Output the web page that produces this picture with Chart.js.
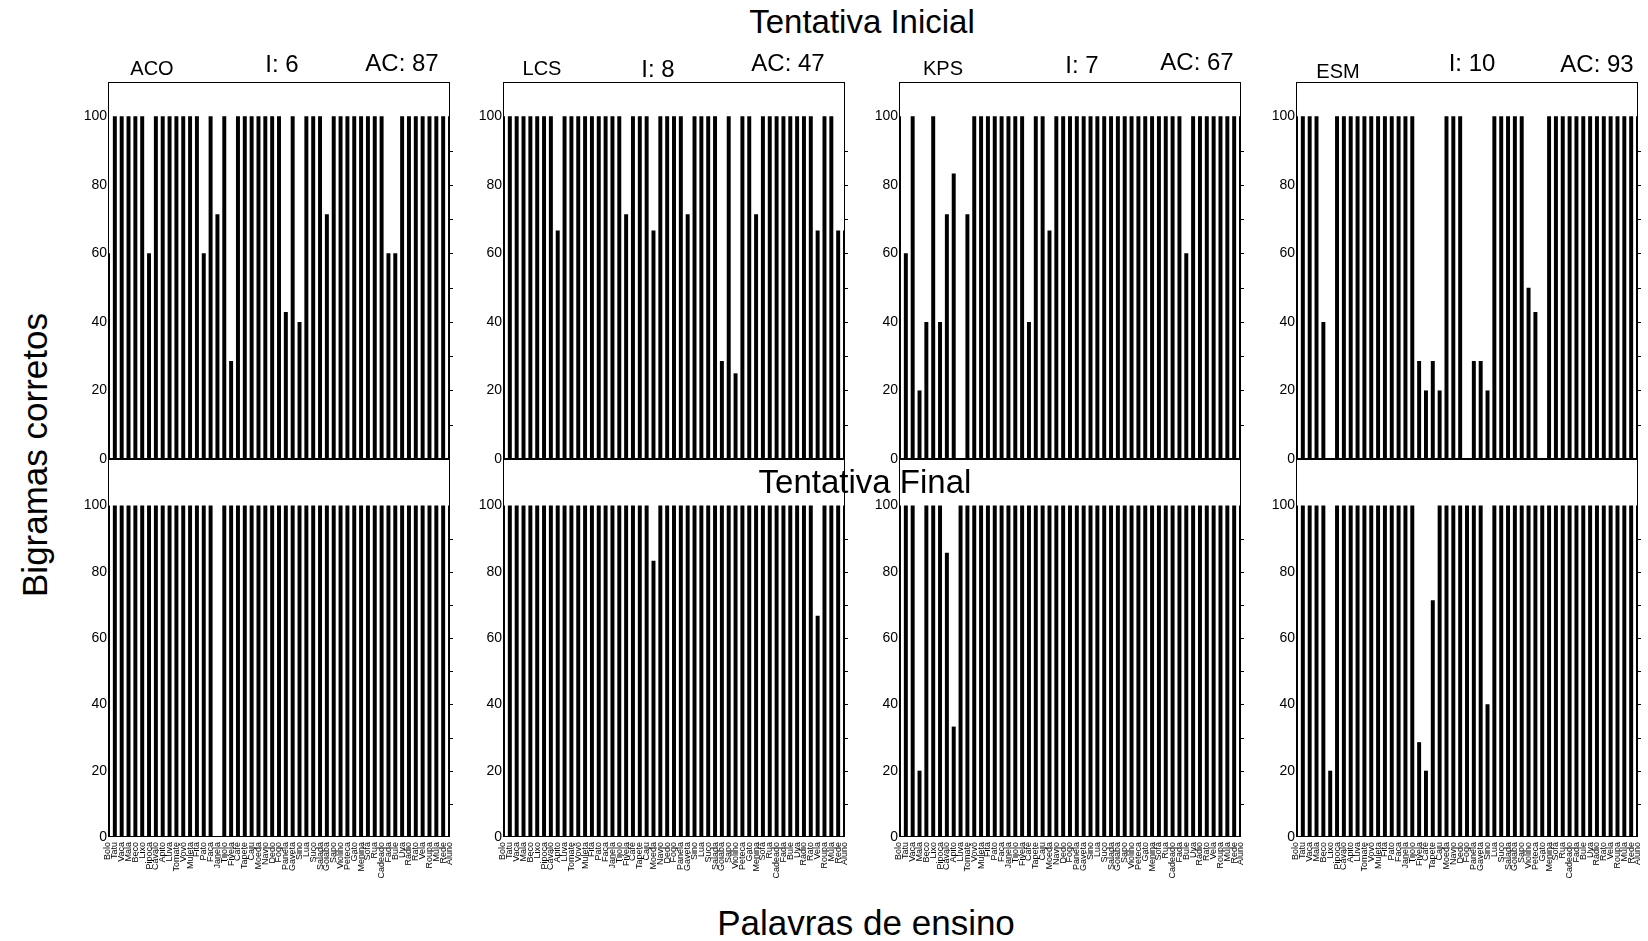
<!DOCTYPE html>
<html>
<head>
<meta charset="utf-8">
<script src="https://cdn.jsdelivr.net/npm/chart.js@4"></script>
<style>
  body { margin: 0; width: 1648px; height: 941px; background: #fff; position: relative; overflow: hidden;
         font-family: "Liberation Sans", Arial, sans-serif; }
  .t { position: absolute; line-height: 1; white-space: nowrap; color: #000; }
  canvas { position: absolute; }
</style>
</head>
<body>
<script>
const FONT = '"Liberation Sans", Arial, sans-serif';

// palavras de ensino (eixo x)
const words = ['Bolo', 'Tatu', 'Vaca', 'Mala', 'Beco', 'Lixo', 'Pipoca', 'Cavalo', 'Apito', 'Luva',
  'Tomate', 'Vovô', 'Muleta', 'Fita', 'Pato', 'Faca', 'Janela', 'Tijolo', 'Fivela', 'Café',
  'Tapete', 'Caju', 'Moeda', 'Navio', 'Dedo', 'Fogo', 'Panela', 'Gaveta', 'Sino', 'Lua',
  'Suco', 'Salada', 'Goiaba', 'Sapo', 'Violino', 'Peteca', 'Gato', 'Menina', 'Sofá', 'Rua',
  'Cadeado', 'Fada', 'Bule', 'Uva', 'Rádio', 'Rato', 'Vela', 'Roupa', 'Mula', 'Rede',
  'Aluno'];

const methods = ['ACO', 'LCS', 'KPS', 'ESM'];
const iValues = [6, 8, 7, 10];
const acValues = [87, 47, 67, 93];

// tentativa inicial
const acoInicial = [60, 100, 100, 100, 100, 100, 60, 100, 100, 100,
  100, 100, 100, 100, 60, 100, 71.4, 100, 28.6, 100,
  100, 100, 100, 100, 100, 100, 42.9, 100, 40, 100,
  100, 100, 71.4, 100, 100, 100, 100, 100, 100, 100,
  100, 60, 60, 100, 100, 100, 100, 100, 100, 100,
  100];
const lcsInicial = [100, 100, 100, 100, 100, 100, 100, 100, 66.7, 100,
  100, 100, 100, 100, 100, 100, 100, 100, 71.4, 100,
  100, 100, 66.7, 100, 100, 100, 100, 71.4, 100, 100,
  100, 100, 28.6, 100, 25, 100, 100, 71.4, 100, 100,
  100, 100, 100, 100, 100, 100, 66.7, 100, 100, 66.7,
  66.7];
const kpsInicial = [100, 60, 100, 20, 40, 100, 40, 71.4, 83.3, 0,
  71.4, 100, 100, 100, 100, 100, 100, 100, 100, 40,
  100, 100, 66.7, 100, 100, 100, 100, 100, 100, 100,
  100, 100, 100, 100, 100, 100, 100, 100, 100, 100,
  100, 100, 60, 100, 100, 100, 100, 100, 100, 100,
  100];
const esmInicial = [100, 100, 100, 100, 40, 0, 100, 100, 100, 100,
  100, 100, 100, 100, 100, 100, 100, 100, 28.6, 20,
  28.6, 20, 100, 100, 100, 0, 28.6, 28.6, 20, 100,
  100, 100, 100, 100, 50, 42.9, 0, 100, 100, 100,
  100, 100, 100, 100, 100, 100, 100, 100, 100, 100,
  100];

// tentativa final
const acoFinal = [100, 100, 100, 100, 100, 100, 100, 100, 100, 100,
  100, 100, 100, 100, 100, 100, 0, 100, 100, 100,
  100, 100, 100, 100, 100, 100, 100, 100, 100, 100,
  100, 100, 100, 100, 100, 100, 100, 100, 100, 100,
  100, 100, 100, 100, 100, 100, 100, 100, 100, 100,
  100];
const lcsFinal = [100, 100, 100, 100, 100, 100, 100, 100, 100, 100,
  100, 100, 100, 100, 100, 100, 100, 100, 100, 100,
  100, 100, 83.3, 100, 100, 100, 100, 100, 100, 100,
  100, 100, 100, 100, 100, 100, 100, 100, 100, 100,
  100, 100, 100, 100, 100, 100, 66.7, 100, 100, 100,
  100];
const kpsFinal = [100, 100, 100, 20, 100, 100, 100, 85.7, 33.3, 100,
  100, 100, 100, 100, 100, 100, 100, 100, 100, 100,
  100, 100, 100, 100, 100, 100, 100, 100, 100, 100,
  100, 100, 100, 100, 100, 100, 100, 100, 100, 100,
  100, 100, 100, 100, 100, 100, 100, 100, 100, 100,
  100];
const esmFinal = [100, 100, 100, 100, 100, 20, 100, 100, 100, 100,
  100, 100, 100, 100, 100, 100, 100, 100, 28.6, 20,
  71.4, 100, 100, 100, 100, 100, 100, 100, 40, 100,
  100, 100, 100, 100, 100, 100, 100, 100, 100, 100,
  100, 100, 100, 100, 100, 100, 100, 100, 100, 100,
  100];

const inicial = [acoInicial, lcsInicial, kpsInicial, esmInicial];
const final = [acoFinal, lcsFinal, kpsFinal, esmFinal];

// layout (px)
const panelLeft = [108, 503, 899, 1296];
const panelW = 342;
const yAxisW = 45;
const rows = [
  { top: 82, bottom: 459, max: 110, series: inicial, showWords: false, xh: 12 },
  { top: 459, bottom: 837, max: 114, series: final, showWords: true, xh: 60 },
];

function addText(str, x, baseline, size, rotate) {
  const d = document.createElement('div');
  d.className = 't';
  d.textContent = str;
  d.style.fontSize = size + 'px';
  d.style.left = x + 'px';
  if (rotate) {
    d.style.top = baseline + 'px';
    d.style.transform = 'translate(-50%, -50%) rotate(-90deg)';
  } else {
    d.style.top = (baseline - 0.8465 * size) + 'px';
    d.style.transform = 'translateX(-50%)';
  }
  document.body.appendChild(d);
}

// caixa em volta do painel + marcas a cada 10 no lado direito
const boxPlugin = {
  id: 'box',
  afterDatasetsDraw(chart) {
    const { ctx, chartArea: a } = chart;
    const y = chart.scales.y;
    ctx.save();
    ctx.strokeStyle = '#000';
    ctx.lineWidth = 1;
    ctx.strokeRect(a.left + 0.5, a.top + 0.5, a.right - a.left - 1, a.bottom - a.top - 1);
    for (let v = 10; v <= 90; v += 10) {
      const py = Math.round(y.getPixelForValue(v)) + 0.5;
      ctx.beginPath();
      ctx.moveTo(a.right - 1, py);
      ctx.lineTo(a.right + 3, py);
      ctx.stroke();
    }
    ctx.restore();
  }
};

rows.forEach(row => {
  methods.forEach((m, c) => {
    const w = yAxisW + panelW + 5;
    const h = 5 + (row.bottom - row.top) + row.xh;
    const cv = document.createElement('canvas');
    cv.width = w;
    cv.height = h;
    cv.style.left = (panelLeft[c] - yAxisW) + 'px';
    cv.style.top = (row.top - 5) + 'px';
    cv.style.width = w + 'px';
    cv.style.height = h + 'px';
    document.body.appendChild(cv);

    new Chart(cv, {
      type: 'bar',
      data: {
        labels: words,
        datasets: [{
          data: row.series[c],
          backgroundColor: '#000',
          borderWidth: 0,
          barPercentage: 0.58,
          categoryPercentage: 1,
          clip: 0,
        }],
      },
      options: {
        responsive: false,
        animation: false,
        devicePixelRatio: 1,
        layout: { padding: { top: 5, right: 5, left: 0, bottom: 0 } },
        plugins: { legend: { display: false }, tooltip: { enabled: false } },
        scales: {
          x: {
            offset: false,
            grid: { display: false, drawTicks: false },
            border: { display: false },
            ticks: {
              display: row.showWords,
              autoSkip: false,
              minRotation: 90,
              maxRotation: 90,
              padding: 5,
              color: '#000',
              font: { size: 9, family: FONT },
            },
            afterFit: s => {
              s.height = row.xh;
              s.paddingLeft = 0;
              s.paddingRight = 0;
            },
          },
          y: {
            min: 0,
            max: row.max,
            grid: { display: false, drawTicks: false },
            border: { display: false },
            ticks: {
              stepSize: 20,
              includeBounds: false,
              padding: 1,
              color: '#000',
              font: { size: 14, family: FONT },
            },
            afterFit: s => {
              s.width = yAxisW;
              s.paddingTop = 0;
              s.paddingBottom = 0;
            },
          },
        },
      },
      plugins: [boxPlugin],
    });
  });
});

// títulos dos painéis
const nameX = [152, 542, 943, 1338];
const nameBase = [75, 75, 75, 78];
const iX = [282, 658, 1082, 1472];
const iBase = [72, 77, 73, 71];
const acX = [402, 788, 1197, 1597];
const acBase = [71, 71, 70, 72];
methods.forEach((m, c) => {
  addText(m, nameX[c], nameBase[c], 20);
  addText('I: ' + iValues[c], iX[c], iBase[c], 24);
  addText('AC: ' + acValues[c], acX[c], acBase[c], 24);
});

addText('Tentativa Inicial', 862, 33, 33);
addText('Tentativa Final', 865, 493, 33);
addText('Palavras de ensino', 866, 935, 35);
addText('Bigramas corretos', 34, 455, 35, true);
</script>
</body>
</html>
